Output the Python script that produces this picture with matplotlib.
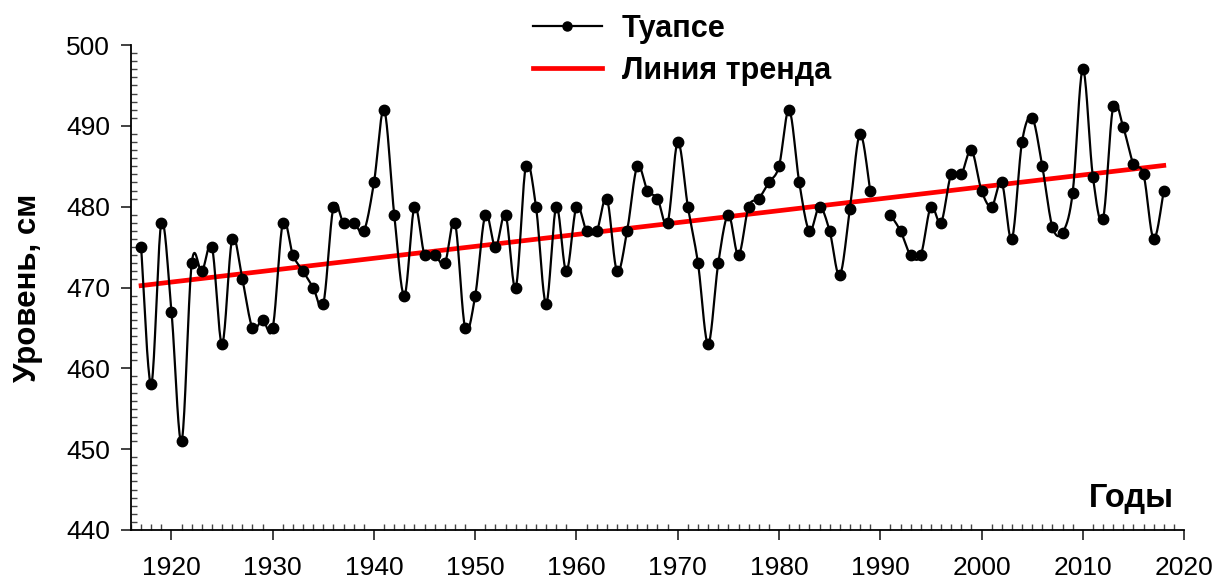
import numpy as np
import matplotlib
matplotlib.use("Agg")
import matplotlib.pyplot as plt

plt.rcParams['font.family'] = ['Liberation Sans', 'DejaVu Sans']

# годы и уровень моря, Туапсе (1990 - нет данных)
years = np.arange(1917, 2019)
level = [475, 458, 478, 467, 451, 473, 472, 475, 463, 476,
         471, 465, 466, 465, 478, 474, 472, 470, 468, 480,
         478, 478, 477, 483, 492, 479, 469, 480, 474, 474,
         473, 478, 465, 469, 479, 475, 479, 470, 485, 480,
         468, 480, 472, 480, 477, 477, 481, 472, 477, 485,
         482, 481, 478, 488, 480, 473, 463, 473, 479, 474,
         480, 481, 483, 485, 492, 483, 477, 480, 477, 471.5,
         479.7, 489, 482, np.nan, 479, 477, 474, 474, 480, 478,
         484, 484, 487, 482, 480, 483, 476, 488, 491, 485,
         477.5, 476.8, 481.7, 497, 483.7, 478.5, 492.4, 489.8, 485.3, 484,
         476, 482]
level = np.array(level, dtype=float)

y_ticks = [440, 450, 460, 470, 480, 490, 500]
x_ticks = list(range(1920, 2021, 10))


def smooth(x, y, n=20):
    # сглаживание как в Excel (кривые Безье через точки)
    xs, ys = [], []
    k = len(x)
    for i in range(k - 1):
        p0 = np.array([x[max(i - 1, 0)], y[max(i - 1, 0)]])
        p1 = np.array([x[i], y[i]])
        p2 = np.array([x[i + 1], y[i + 1]])
        p3 = np.array([x[min(i + 2, k - 1)], y[min(i + 2, k - 1)]])
        c1 = p1 + (p2 - p0) / 6
        c2 = p2 - (p3 - p1) / 6
        t = np.linspace(0, 1, n)[:, None]
        b = ((1 - t) ** 3) * p1 + 3 * ((1 - t) ** 2) * t * c1 + 3 * (1 - t) * t ** 2 * c2 + t ** 3 * p2
        xs.append(b[:, 0])
        ys.append(b[:, 1])
    return np.concatenate(xs), np.concatenate(ys)


fig = plt.figure(figsize=(12.15, 5.81), dpi=100)
ax = fig.add_axes([0.1078, 0.0878, 0.8667, 0.8347])

ok = ~np.isnan(level)
# разбить на куски по пропускам
idx = np.where(ok)[0]
groups = np.split(idx, np.where(np.diff(idx) > 1)[0] + 1)
for g in groups:
    sx, sy = smooth(years[g], level[g])
    ax.plot(sx, sy, color='black', lw=1.6, zorder=3)
ax.plot(years[ok], level[ok], 'o', color='black', ms=7.5, zorder=4)

coef = np.polyfit(years[ok], level[ok], 1)
tx = np.array([years[0], years[-1]])
ax.plot(tx, np.polyval(coef, tx), color='#ff0000', lw=3.4, zorder=2)

ax.set_xlim(1916, 2020)
ax.set_ylim(440, 500)
ax.set_xticks(x_ticks)
ax.set_yticks(y_ticks)
ax.set_xticks(np.arange(1916, 2021, 1), minor=True)
ax.set_yticks(np.arange(440, 501, 1), minor=True)
ax.tick_params(which='major', direction='out', length=7, width=1.3, color='#333333')
ax.tick_params(axis='y', which='major', labelsize=19, pad=8)
ax.tick_params(axis='x', which='major', labelsize=19, pad=12)
ax.tick_params(which='minor', direction='in', length=4.5, width=1.0, color='#444444')
for s in ['top', 'right']:
    ax.spines[s].set_visible(False)
for s in ['left', 'bottom']:
    ax.spines[s].set_linewidth(1.3)

ax.set_ylabel('Уровень, см', fontsize=22.5, fontweight='bold')
ax.yaxis.set_label_coords(-0.0836, 0.5)
ax.text(2014.8, 442, 'Годы', fontsize=23.5, fontweight='bold', ha='center', va='bottom')

h1, = ax.plot([], [], '-o', color='black', lw=1.6, ms=6.5)
h2, = ax.plot([], [], color='#ff0000', lw=3.4)
fig.legend([h1, h2], ['Туапсе', 'Линия тренда'], loc='upper left',
           bbox_to_anchor=(533 / 1215, 0.976), frameon=False,
           prop={'size': 22, 'weight': 'bold'}, handlelength=2.25,
           handletextpad=0.65, labelspacing=0.4, borderpad=0, borderaxespad=0)

fig.savefig('out.png', dpi=100)
